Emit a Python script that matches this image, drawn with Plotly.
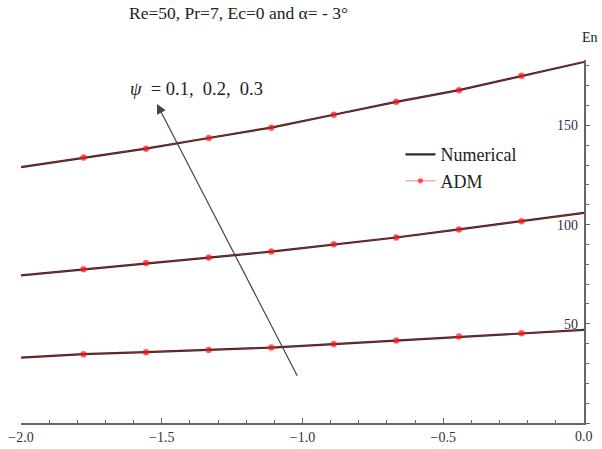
import plotly.graph_objects as go

# x positions (full curve incl. end points) — ADM markers at interior points
x_vals = [-2.0, -1.778, -1.556, -1.333, -1.111, -0.889, -0.667, -0.444, -0.222, 0.0]
en_psi_01 = [33.0, 34.7, 35.7, 36.8, 38.0, 39.8, 41.6, 43.6, 45.2, 46.9]
en_psi_02 = [74.4, 77.5, 80.6, 83.4, 86.4, 90.1, 93.5, 97.6, 101.7, 105.9]
en_psi_03 = [129.0, 133.8, 138.3, 143.7, 148.9, 155.4, 161.9, 167.8, 175.0, 182.0]
series = [en_psi_01, en_psi_02, en_psi_03]

x_ticks = [-2.0, -1.5, -1.0, -0.5, 0.0]
x_tick_text = ["−2.0", "−1.5", "−1.0", "−0.5", "0.0"]

title_text = "Re=50, Pr=7, Ec=0 and α= - 3°"
psi_label = "<i>ψ</i>  = 0.1,  0.2,  0.3"

FONT = "Liberation Serif, Times New Roman, serif"
marker_sizes = [0] + [6] * (len(x_vals) - 2) + [0]

fig = go.Figure()
for i, ys in enumerate(series):
    fig.add_trace(go.Scatter(
        x=x_vals, y=ys, mode="lines", name="Numerical",
        line=dict(color="#2b2b2b", width=2.2), showlegend=(i == 0),
        legendrank=1))
for i, ys in enumerate(series):
    fig.add_trace(go.Scatter(
        x=x_vals, y=ys, mode="lines+markers", name="ADM",
        line=dict(color="rgba(235,30,30,0.55)", width=1),
        marker=dict(color="#ff1010", size=marker_sizes),
        showlegend=(i == 0), legendrank=2))

fig.add_annotation(
    x=-1.517, y=160.8, ax=-1.016, ay=23.1, xref="x", yref="y",
    axref="x", ayref="y", showarrow=True, arrowhead=2, arrowsize=1.6,
    arrowwidth=1.2, arrowcolor="#444", text="")
fig.add_annotation(
    x=-1.62, y=168.5, xref="x", yref="y", text=psi_label, showarrow=False,
    xanchor="left", yanchor="middle", font=dict(family=FONT, size=18.5, color="#222"))
fig.add_annotation(
    x=1.0107, y=1.063, xref="paper", yref="paper", text="En", showarrow=False,
    xanchor="center", yanchor="middle", font=dict(family=FONT, size=14, color="#222"))
fig.add_annotation(
    x=0.386, y=1.129, xref="paper", yref="paper", text=title_text, showarrow=False,
    xanchor="center", yanchor="middle", font=dict(family=FONT, size=17.5, color="#222"))
# last x tick label (Plotly suppresses it at the crossing with the right-hand y axis)
fig.add_annotation(
    x=x_ticks[-1], y=-0.038, xref="x", yref="paper", text=x_tick_text[-1], showarrow=False,
    xanchor="center", yanchor="middle", font=dict(family=FONT, size=14, color="#333"))

fig.update_layout(
    width=602, height=449,
    margin=dict(l=21, r=18, t=60, b=26, autoexpand=False),
    plot_bgcolor="white", paper_bgcolor="white",
    font=dict(family=FONT, size=14, color="#333"),
    legend=dict(x=0.674, y=0.79, xanchor="left", yanchor="top",
                bgcolor="rgba(0,0,0,0)", font=dict(family=FONT, size=18, color="#222"),
                itemwidth=30, tracegroupgap=3),
    showlegend=True,
)
fig.update_xaxes(
    range=[-2.0, 0.0], showgrid=False, zeroline=False, showline=True, automargin=False,
    linecolor="#666", linewidth=1.5, ticks="inside", ticklen=5, tickcolor="#666",
    tickmode="array", tickvals=x_ticks[:-1], ticktext=x_tick_text[:-1],
    minor=dict(dtick=0.1, tick0=0, ticks="inside", ticklen=3, tickcolor="#666"),
    tickfont=dict(family=FONT, size=14, color="#333"))
fig.update_yaxes(
    range=[0, 183], side="right", showgrid=False, zeroline=False, showline=True, automargin=False,
    linecolor="#666", linewidth=1.5, ticks="outside", ticklen=4, tickcolor="#666",
    ticklabelposition="inside", ticklabelstandoff=6, dtick=50, tick0=0,
    minor=dict(dtick=10, ticks="outside", ticklen=3, tickcolor="#666"),
    tickfont=dict(family=FONT, size=14, color="#3a2a4a"))

fig.write_html(
    "out.html",
    config={"displayModeBar": False},
    post_script="document.body.style.margin='0px';document.body.style.overflow='hidden';")
